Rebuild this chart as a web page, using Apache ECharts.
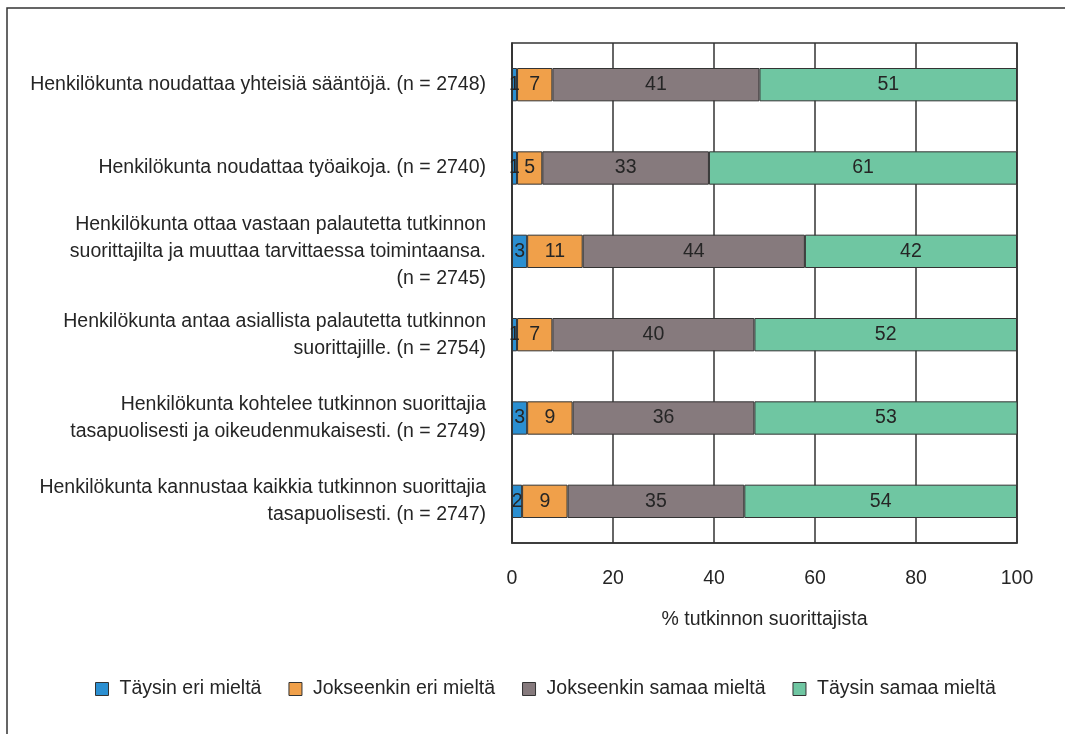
<!DOCTYPE html>
<html>
<head>
<meta charset="utf-8">
<script src="https://cdn.jsdelivr.net/npm/echarts@6/dist/echarts.min.js"></script>
<style>
html, body { margin: 0; padding: 0; background: #fff; }
#main { width: 1065px; height: 734px; }
</style>
</head>
<body>
<div id="main"></div>
<script>
// kategoriat ylhäältä alas
var categories = [
  'Henkilökunta noudattaa yhteisiä sääntöjä. (n = 2748)',
  'Henkilökunta noudattaa työaikoja. (n = 2740)',
  'Henkilökunta ottaa vastaan palautetta tutkinnon\nsuorittajilta ja muuttaa tarvittaessa toimintaansa.\n(n = 2745)',
  'Henkilökunta antaa asiallista palautetta tutkinnon\nsuorittajille. (n = 2754)',
  'Henkilökunta kohtelee tutkinnon suorittajia\ntasapuolisesti ja oikeudenmukaisesti. (n = 2749)',
  'Henkilökunta kannustaa kaikkia tutkinnon suorittajia\ntasapuolisesti. (n = 2747)'
]
var seriesNames = ['Täysin eri mieltä', 'Jokseenkin eri mieltä', 'Jokseenkin samaa mieltä', 'Täysin samaa mieltä']
var taysinEri = [1, 1, 3, 1, 3, 2]
var jokseenkinEri = [7, 5, 11, 7, 9, 9]
var jokseenkinSamaa = [41, 33, 44, 40, 36, 35]
var taysinSamaa = [51, 61, 42, 52, 53, 54]
var xTicks = [0, 20, 40, 60, 80, 100]

var colors = ['#2b8fd1', '#f0a04a', '#867a7d', '#6fc6a2']
var values = [taysinEri, jokseenkinEri, jokseenkinSamaa, taysinSamaa]
var font = 'Liberation Sans'
var fs = 19.5
var textColor = '#252525'

var chart = echarts.init(document.getElementById('main'))

var series = seriesNames.map(function (name, i) {
  return {
    name: name,
    type: 'bar',
    stack: 'total',
    data: values[i],
    barWidth: '40%',
    itemStyle: {
      color: colors[i],
      borderColor: '#333',
      borderWidth: 1
    },
    label: {
      show: true,
      position: 'inside',
      color: textColor,
      fontSize: fs,
      fontFamily: font
    },
    emphasis: { disabled: true }
  }
})

var option = {
  animation: false,
  textStyle: { fontFamily: font },
  graphic: [
    {
      type: 'rect',
      shape: { x: 7, y: 8, width: 1200, height: 900 },
      style: { fill: 'none', stroke: '#333', lineWidth: 1.5 },
      silent: true
    }
  ],
  grid: {
    left: 512,
    top: 43,
    width: 505,
    height: 500,
    show: true,
    borderColor: '#333',
    borderWidth: 1.5
  },
  legend: {
    data: seriesNames,
    bottom: 30,
    left: 90,
    itemWidth: 13,
    itemHeight: 13,
    itemGap: 27,
    icon: 'rect',
    itemStyle: { borderColor: '#333', borderWidth: 1 },
    textStyle: { color: textColor, fontSize: fs, fontFamily: font, padding: [0, 0, 0, 6] }
  },
  xAxis: {
    type: 'value',
    min: xTicks[0],
    max: xTicks[xTicks.length - 1],
    interval: 20,
    name: '% tutkinnon suorittajista',
    nameLocation: 'middle',
    nameGap: 67,
    nameTextStyle: { color: textColor, fontSize: fs, fontFamily: font },
    axisLine: { show: true, lineStyle: { color: '#333', width: 1.5 } },
    axisTick: { show: false },
    axisLabel: { color: textColor, fontSize: fs, margin: 26, fontFamily: font },
    splitLine: { show: true, lineStyle: { color: '#333', width: 1.5 } }
  },
  yAxis: {
    type: 'category',
    data: categories,
    inverse: true,
    axisLine: { show: true, lineStyle: { color: '#333', width: 1.5 } },
    axisTick: { show: false },
    axisLabel: {
      color: textColor,
      fontSize: fs,
      lineHeight: 27,
      margin: 26,
      align: 'right',
      fontFamily: font
    },
    splitLine: { show: false }
  },
  series: series
}

chart.setOption(option)
</script>
</body>
</html>
